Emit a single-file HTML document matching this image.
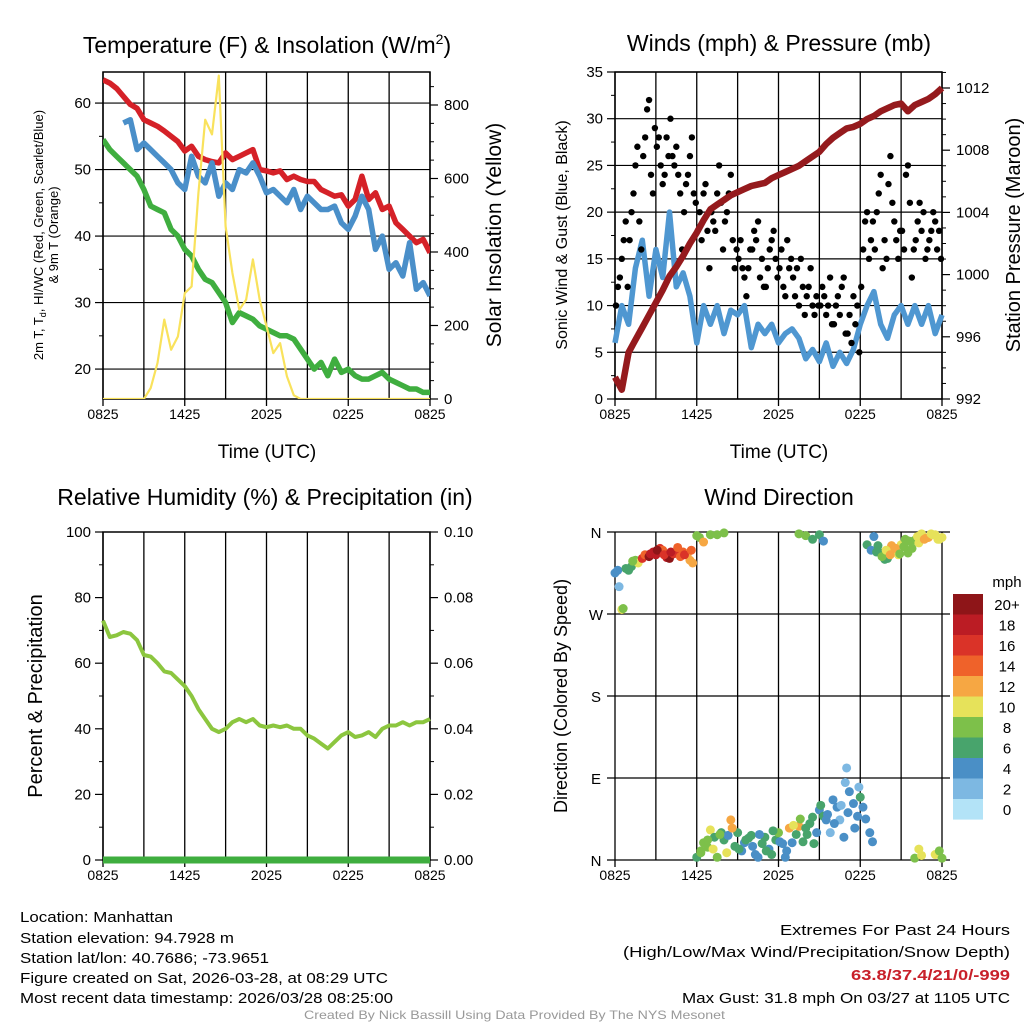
<!DOCTYPE html>
<html><head><meta charset="utf-8"><style>
html,body{margin:0;padding:0;background:#fff;}
svg{display:block;font-family:"Liberation Sans",Arial,sans-serif;}
</style></head><body>
<svg id="chart" width="1024" height="1024" viewBox="0 0 1024 1024" xmlns="http://www.w3.org/2000/svg">
<rect width="1024" height="1024" fill="#fff"/>
<g id="p1"></g>
<g id="p2"></g>
<g id="p3"></g>
<g id="p4"></g>
<g font-size="23" text-anchor="middle" fill="#000">
<text x="267" y="53">Temperature (F) &amp; Insolation (W/m<tspan font-size="14" dy="-9">2</tspan><tspan dy="9">)</tspan></text>
<text x="779" y="51">Winds (mph) &amp; Pressure (mb)</text>
<text x="265" y="505">Relative Humidity (%) &amp; Precipitation (in)</text>
<text x="779" y="505">Wind Direction</text>
</g>
<g font-size="19" text-anchor="middle">
<text x="267" y="458">Time (UTC)</text>
<text x="779" y="458">Time (UTC)</text>
<text font-size="13" transform="translate(43,235) rotate(-90)">2m T, T<tspan font-size="9" dy="3">d</tspan><tspan dy="-3">, HI/WC (Red, Green, Scarlet/Blue)</tspan></text>
<text font-size="13" transform="translate(58,235) rotate(-90)">&amp; 9m T (Orange)</text>
<text font-size="21" transform="translate(501,235) rotate(-90)">Solar Insolation (Yellow)</text>
<text font-size="16" transform="translate(567,235) rotate(-90)">Sonic Wind &amp; Gust (Blue, Black)</text>
<text font-size="20" transform="translate(1020,235) rotate(-90)">Station Pressure (Maroon)</text>
<text font-size="20" transform="translate(42,696) rotate(-90)">Percent &amp; Precipitation</text>
<text font-size="18" transform="translate(567,696) rotate(-90)">Direction (Colored By Speed)</text>
</g>
<g font-size="15">
<text x="20" y="922" textLength="153" lengthAdjust="spacingAndGlyphs">Location: Manhattan</text>
<text x="20" y="943" textLength="214" lengthAdjust="spacingAndGlyphs">Station elevation: 94.7928 m</text>
<text x="20" y="963" textLength="249" lengthAdjust="spacingAndGlyphs">Station lat/lon: 40.7686; -73.9651</text>
<text x="20" y="983" textLength="368" lengthAdjust="spacingAndGlyphs">Figure created on Sat, 2026-03-28, at 08:29 UTC</text>
<text x="20" y="1003" textLength="373" lengthAdjust="spacingAndGlyphs">Most recent data timestamp: 2026/03/28 08:25:00</text>
<text x="780" y="935" textLength="230" lengthAdjust="spacingAndGlyphs">Extremes For Past 24 Hours</text>
<text x="623" y="957" textLength="387" lengthAdjust="spacingAndGlyphs">(High/Low/Max Wind/Precipitation/Snow Depth)</text>
<text x="851" y="980" font-weight="bold" fill="#c8202a" textLength="159" lengthAdjust="spacingAndGlyphs">63.8/37.4/21/0/-999</text>
<text x="682" y="1003" textLength="328" lengthAdjust="spacingAndGlyphs">Max Gust: 31.8 mph On 03/27 at 1105 UTC</text>
<text x="304" y="1019" font-size="12" fill="#999" textLength="421" lengthAdjust="spacingAndGlyphs">Created By Nick Bassill Using Data Provided By The NYS Mesonet</text>
</g>
</svg>
<script>
var xTickLabels=["0825","1425","2025","0225","0825"];
var tempRed=[63.5,63,62.2,61,59.8,59.2,57.5,57,56.5,55.8,55,54.2,52.8,53.5,52,51.5,51.2,51,52.5,51.5,52,52.5,53,50,49.8,49.5,49.8,48.5,49,48.5,48.2,48.2,47,46.5,46,46.2,44.5,45.5,49,45.5,46.5,44,44.5,42,41,40,39,39.5,37.5];
var tempBlue=[null,null,null,57,57.5,53,54,53,52,51,50,48,47,52,49,48,51,46,48,47,50,49.5,51,49,46.5,47,46,45,47,44,46,45,44,44,44.5,42,41,43,46,44,38,40,35,36,34,39,32,33,31];
var dewGreen=[54.5,53,52,51,50,49,47,44.5,44,43.5,41,40,38,37,35,33.5,33,31.5,30,27,28.5,28,27.5,26.5,26,25.5,25,25,24.5,23,21.5,20,21,19,21.5,19.5,20,19,18.5,18.5,19,19.5,18.5,18,17.5,17,17,16.5,16.5];
var solar=[0,0,0,0,0,0,0,30,98,216,134,170,288,306,560,760,720,880,470,343,243,270,380,270,198,125,152,62,10,0,0,0,0,0,0,0,0,0,0,0,0,0,0,0,0,0,0,0,0];
var pressure=[993.4,992.6,995,995.8,996.6,997.4,998.2,999,999.9,1000.5,1001.2,1002,1002.7,1003.5,1004.2,1004.5,1004.8,1005.1,1005.3,1005.5,1005.7,1005.8,1005.9,1006.2,1006.4,1006.6,1006.8,1007,1007.3,1007.6,1007.9,1008.4,1008.8,1009.1,1009.4,1009.5,1009.7,1010,1010.2,1010.5,1010.7,1010.9,1011,1010.5,1010.9,1011.1,1011.3,1011.6,1012];
var windSpeed=[6,10,8,14,17,11,16,13,20,12,13.5,11,6,10,8,10,7,9.5,9,10,5.5,8,7,8,6,7,7.5,6.5,4.3,5.3,4,6,3.5,5,3.8,5.3,8,10,11.5,8,6.5,9,10,8,10,8,10,7,9];
var gustSpeed=[10,12,13,15,17,19,12, 17,20,22,25,27,19,16, 26,28,31,32,24,22,29, 27,28,25,23,24,28,26, 30,26,25,27,24,22,16, 20,23,24,26,28,22,21, 18,20,17,22,23,18,14, 20,19,18,22,25,21,16, 19,20,22,24,17,14,16, 15,17,14,13,11,14,16, 16,18,17,19,13,15,12, 12,14,16,17,18,15,13, 14,16,12,11,17,14,15, 13,11,14,10,15,12,9, 11,12,14,10,9,11,10, 10,12,11,9,10,13,8, 8,10,11,9,12,13,7, 7,9,6,11,8,10,5, 12,16,19,20,15,17,19, 16,20,22,24,14,17,15, 23,26,21,19,17,15,18, 18,16,24,25,21,13,16, 17,19,21,18,20,15,16, 17,18,20,19,16,18,15];
var humidity=[73,68,68.5,69.5,69,67,62.5,62,60,57.5,57,55,53,50,46,43,40,39,40,42,43,42,43,41,40.5,41,40.5,41,40,40,38,37,35.5,34,36,38,39,37.5,38,39,37.5,40,41,41,42,41,42,42,43];
var precip=[0,0,0,0,0,0,0,0,0,0,0,0,0,0,0,0,0,0,0,0,0,0,0,0,0,0,0,0,0,0,0,0,0,0,0,0,0,0,0,0,0,0,0,0,0,0,0,0,0];
var dirTime=[0,0.2,0.3,0.5,0.6,1,1.2,1.5,1.7,2,2.2,2.5,2.8,3,3.3,3.5,3.8,4,4.3,4.5,4.8,5,5.3,5.5,5.7,6,6.2,6.5,7,7.5,8,6,6.3,6.5,6.8,7,7.3,7.5,7.8,8,8.3,8.5,8.8,9,9.3,9.5,9.8,10,10.3,10.5,10.8,11,11.3,11.5,11.8,12,12.3,12.5,12.8,13,13.3,13.5,13.8,14,14.3,14.5,14.8,15,15.3,15.5,15.8,16,16.3,16.5,16.8,17,17.2,17.5,17.8,18,13.5,14,14.5,15,15.3,18.5,18.8,19,19.3,19.5,19.8,20,20.3,20.5,20.8,21,21.3,21.5,21.8,22,22.3,22.5,22.8,23,23.3,23.5,23.8,24,22,22.3,22.5,23.5,23.8,24,
 6.3,6.8,7.2,7.7,8.2,8.6,9.1,9.6,10.1,10.6,11.1,11.6,12.1,12.6,13.1,13.6,14.1,14.6,15.1,15.6,16.1,16.6,17.1,17.6,18.2,18.4,18.7,18.9,16.9,17.9,
 19.2,19.6,19.9,20.2,20.6,20.9,21.2,21.6,22.2,22.7,23.2,23.7,
 0.8,1.3,2.6,3.1,3.6,4.1,4.6,5.1,5.6];
var dirDeg=[315,318,300,275,276,318,322,329,326,331,335,333,338,335,342,340,332,331,336,337,333,338,335,329,326,356,354,349,357,357,359,3,8,19,14,33,25,3,30,22,27,44,15,30,10,19,24,27,6,3,18,25,12,6,22,30,18,3,35,19,28,37,20,35,40,47,30,55,48,44,30,66,58,44,25,101,75,62,48,69,358,356,352,357,350,346,340,355,345,337,330,331,345,340,335,346,352,337,342,351,348,358,353,354,357,357,352,354,2,12,5,6,10,2,
 10,22,12,28,8,35,12,22,15,28,10,32,20,10,38,45,28,18,60,50,40,60,52,35,58,45,30,20,85,80,
 338,333,340,335,342,336,344,350,355,352,358,352,
 320,328,336,340,335,338,343,335,340];
var dirSpeed=[5,4,3,10,9,6,7,9,10,16,15,20,18,18,16,14,19,20,17,17,14,14,13,12,13,8,9,12,8,8,8,6,8,8,9,10,6,8,6,6,5,12,7,6,4,4,6,6,5,4,7,6,5,6,6,8,4,4,12,4,6,12,7,6,6,6,5,4,6,4,3,4,4,3,5,2,4,4,5,6,9,8,6,6,5,6,4,4,6,6,6,6,12,12,10,10,8,8,8,8,10,10,12,12,10,10,10,10,8,10,10,10,8,8,
 8,8,10,8,10,12,6,6,4,4,6,6,4,4,10,8,6,6,6,4,4,2,4,4,4,4,4,4,2,2,
 6,8,10,12,12,8,8,8,10,12,10,10,
 6,8,18,20,16,18,14,16,14];
var speedBins=["0","2","4","6","8","10","12","14","16","18","20+"];

var NS='http://www.w3.org/2000/svg';
var binColors=['#b3e3f7','#7db8e2','#4a8fc6','#48a46c','#7dc04a','#e6e25a','#f6a743','#ef622a','#da3328','#bb1c24','#8e1518'];
function mk(parent,tag,attrs){var e=document.createElementNS(NS,tag);for(var k in attrs)e.setAttribute(k,attrs[k]);parent.appendChild(e);return e;}
function txt(parent,x,y,s,anchor,size){var t=mk(parent,'text',{x:x,y:y,'text-anchor':anchor||'middle','font-size':size||15});t.textContent=s;return t;}
function pathOf(vals,xf,yf){var d='',pen=false;for(var i=0;i<vals.length;i++){if(vals[i]===null){pen=false;continue;}var x=xf(i*24/(vals.length-1)),y=yf(vals[i]);d+=(pen?'L':'M')+x.toFixed(1)+','+y.toFixed(1);pen=true;}return d;}

function panel(g,X0,Y0,W,H,frame){
  var xs=function(h){return X0+h*W/24;};
  for(var k=0;k<=8;k++){var x=xs(k*3);
    var l=mk(g,'line',{x1:x,x2:x,y1:Y0,y2:Y0+H+(k%2==0?7:0),stroke:'#000','stroke-width':1.3});
    
    
  }
  for(var k=0;k<xTickLabels.length;k++){var t=txt(g,xs(k*6),Y0+H+20,xTickLabels[k],'middle',14);
    
    
  }
  if(frame){var r=mk(g,'rect',{x:X0,y:Y0,width:W,height:H,fill:'none',stroke:'#000','stroke-width':1.5});
    
    }
  return xs;
}
function yAxis(g,side,x,vals,yf,labels,grid,X0,W){
  for(var i=0;i<vals.length;i++){var y=yf(vals[i]);
    if(grid){var gl=mk(g,'line',{x1:X0,x2:X0+W,y1:y,y2:y,stroke:'#000','stroke-width':1.2});
      
      }
    var tk=mk(g,'line',{x1:x,x2:side<0?x-8:x+8,y1:y,y2:y,stroke:'#000','stroke-width':1.2});
    
    
    var t=txt(g,side<0?x-12:x+14,y+5,labels[i],side<0?'end':'start',15);
    
    
  }
}
function minor(g,side,x,vals,yf){for(var i=0;i<vals.length;i++){var y=yf(vals[i]);var m=mk(g,'line',{x1:x,x2:side<0?x-4:x+4,y1:y,y2:y,stroke:'#000','stroke-width':1});
  
  }}

// Panel 1
(function(){var g=document.getElementById('p1');var X0=103,Y0=72,W=327,H=327;
 var yT=function(v){return 399-(v-15.5)*6.65;};var yS=function(v){return 399-v*0.3675;};
 var xs=panel(g,X0,Y0,W,H,true);
 yAxis(g,-1,X0,[20,30,40,50,60],yT,['20','30','40','50','60'],true,X0,W);
 minor(g,-1,X0,[25,35,45,55],yT);
 yAxis(g,1,X0+W,[0,200,400,600,800],yS,['0','200','400','600','800'],false);
 minor(g,1,X0+W,[50,100,150,250,300,350,450,500,550,650,700,750,850],yS);
 var cp=mk(g,'clipPath',{id:'c1'});mk(cp,'rect',{x:X0,y:Y0,width:W,height:H});
 var s=[[solar,yS,'#f9e25c',2.2,'solar-line'],[dewGreen,yT,'#3fae3f',5.5,'dewpoint-line'],[tempBlue,yT,'#4a8fc9',5.5,'heat-index-line'],[tempRed,yT,'#d52128',5.5,'temperature-line']];
 var order=[1,3,2,0];
 for(var j=0;j<order.length;j++){var a=s[order[j]];var p=mk(g,'path',{d:pathOf(a[0],xs,a[1]),fill:'none',stroke:a[2],'stroke-width':a[3],'stroke-linejoin':'round','clip-path':'url(#c1)'});
   
   }
})();
// Panel 2
(function(){var g=document.getElementById('p2');var X0=615,Y0=72,W=327,H=327;
 var yW=function(v){return 399-v*9.343;};var yP=function(v){return 399-(v-992)*15.55;};
 var xs=panel(g,X0,Y0,W,H,true);
 yAxis(g,-1,X0,[0,5,10,15,20,25,30,35],yW,['0','5','10','15','20','25','30','35'],true,X0,W);
 minor(g,-1,X0,[2.5,7.5,12.5,17.5,22.5,27.5,32.5],yW);
 yAxis(g,1,X0+W,[992,996,1000,1004,1008,1012],yP,['992','996','1000','1004','1008','1012'],false);
 minor(g,1,X0+W,[993,994,995,997,998,999,1001,1002,1003,1005,1006,1007,1009,1010,1011,1013],yP);
 var p=mk(g,'path',{d:pathOf(windSpeed,xs,yW),fill:'none',stroke:'#4f97d1','stroke-width':5.5,'stroke-linejoin':'round'});
 
 
 for(var i=0;i<gustSpeed.length;i++){var c=mk(g,'circle',{cx:xs(i*24/gustSpeed.length+24/gustSpeed.length/2),cy:yW(gustSpeed[i]),r:3.2,fill:'#000'});
   
   }
 var q=mk(g,'path',{d:pathOf(pressure,xs,yP),fill:'none',stroke:'#951a1d','stroke-width':6.5,'stroke-linejoin':'round'});
 
 
})();
// Panel 3
(function(){var g=document.getElementById('p3');var X0=103,Y0=532,W=327,H=328;
 var yR=function(v){return 860-v*3.28;};var yQ=function(v){return 860-v*3280;};
 var xs=panel(g,X0,Y0,W,H,true);
 yAxis(g,-1,X0,[0,20,40,60,80,100],yR,['0','20','40','60','80','100'],false);
 minor(g,-1,X0,[10,30,50,70,90],yR);
 yAxis(g,1,X0+W,[0,0.02,0.04,0.06,0.08,0.1],yQ,['0.00','0.02','0.04','0.06','0.08','0.10'],false);
 minor(g,1,X0+W,[0.01,0.03,0.05,0.07,0.09],yQ);
 var p=mk(g,'path',{d:pathOf(humidity,xs,yR),fill:'none',stroke:'#8cc63f','stroke-width':4,'stroke-linejoin':'round'});
 
 
 var q=mk(g,'path',{d:pathOf(precip,xs,yQ),fill:'none',stroke:'#3fae3f','stroke-width':7});
 
 
})();
// Panel 4
(function(){var g=document.getElementById('p4');var X0=615,Y0=532,W=327,H=328;
 var yD=function(v){return 860-v*328/360;};
 var xs=panel(g,X0,Y0,W,H,false);
 var dv=[0,90,180,270,360],dl=['N','E','S','W','N'];
 for(var i=0;i<dv.length;i++){var y=yD(dv[i]);var l=mk(g,'line',{x1:X0-8,x2:X0+W+8,y1:y,y2:y,stroke:'#000','stroke-width':1.3});
   
   
   var t=txt(g,X0-19,y+6,dl[i],'middle',15);
   
   }
 for(var i=0;i<dirTime.length;i++){var b=Math.min(10,Math.floor(dirSpeed[i]/2));
   var c=mk(g,'circle',{cx:xs(dirTime[i]),cy:yD(dirDeg[i]),r:4.5,fill:binColors[b]});
   
   }
 var lg=mk(g,'g',{});
 
 
 var t0=txt(lg,1007,587,'mph','middle',15);
 
 
 for(var i=0;i<speedBins.length;i++){var k=speedBins.length-1-i;var y=594+i*20.5;
   var r=mk(lg,'rect',{x:953,y:y,width:30,height:20.6,fill:binColors[k]});
   
   
   var t=txt(lg,1007,y+16,speedBins[k],'middle',15);
   
   }
})();
</script>
</body></html>
